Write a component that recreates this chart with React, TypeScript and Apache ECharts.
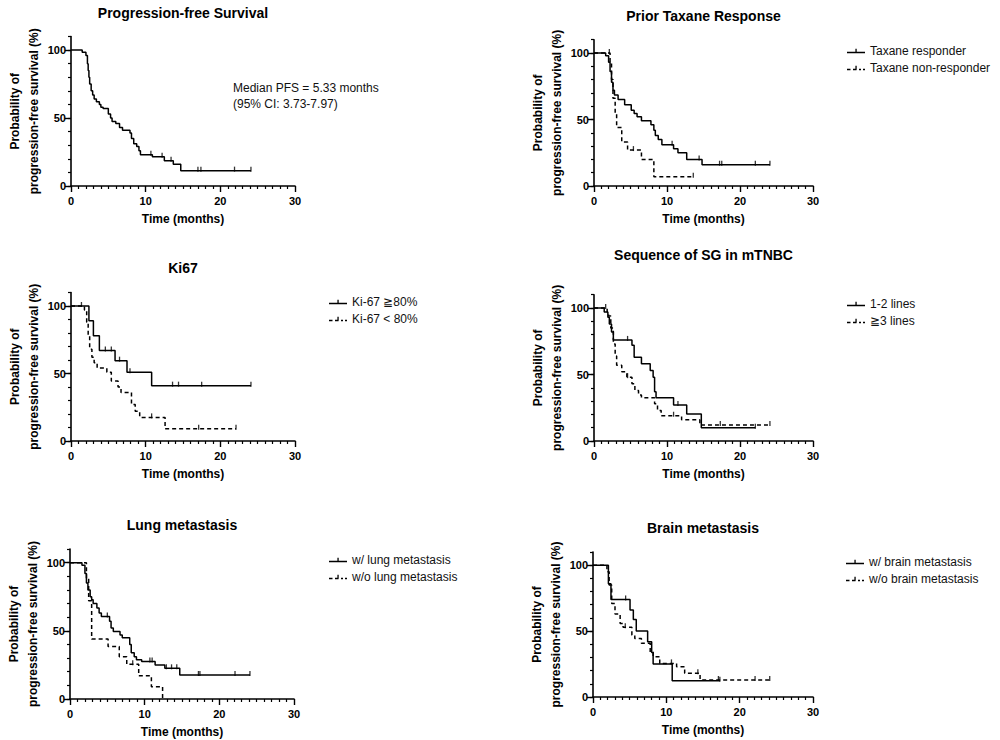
import React, { useEffect, useRef } from "react";
import * as echarts from "echarts";

const FONT = '"Liberation Sans", Arial, Helvetica, sans-serif';

// all patients
const pfsTime = [0, 1.5, 2.0, 2.2, 2.3, 2.4, 2.5, 2.7, 2.9, 3.1, 3.4, 3.8, 4.0, 4.3, 5.0, 5.3, 5.5, 6.0, 6.5, 6.9, 7.9, 8.1, 8.4, 8.8, 9.1, 9.3, 10.9, 12.5, 13.7, 14.7];
const pfsSurv = [100, 98.5, 96, 90, 85, 80, 75, 70, 67, 64, 62, 60, 58, 57, 53, 50, 47.5, 46, 43, 41, 39, 35, 31, 29, 26, 23, 21.5, 18.5, 16, 11.3];
const pfsCensor = [10.7, 12.2, 13.4, 17.0, 17.4, 21.9, 24.1];

// prior taxane response
const taxRespTime = [0, 1.6, 2.0, 2.2, 2.4, 2.6, 2.8, 3.3, 4.2, 5.1, 5.5, 5.9, 6.5, 7.8, 8.2, 8.4, 8.8, 9.3, 10.9, 11.5, 12.7, 14.8];
const taxRespSurv = [100, 98, 93, 86, 78, 72, 68.5, 65, 61, 57, 54.5, 52, 49, 46, 42, 38, 35, 31, 28, 25, 20, 16];
const taxRespCensor = [10.7, 14.4, 17.2, 17.5, 22.1, 24.1];
const taxNonTime = [0, 2.2, 2.4, 2.6, 2.9, 3.1, 3.8, 4.6, 6.5, 8.2];
const taxNonSurv = [100, 93, 80, 66, 55, 44, 33, 27, 20, 7];
const taxNonCensor = [2.1, 5.4, 13.6];

// Ki67
const kiHighTime = [0, 2.4, 3.0, 3.8, 5.9, 7.5, 10.8];
const kiHighSurv = [100, 89, 78, 67, 59.5, 51, 41];
const kiHighCensor = [4.6, 5.4, 6.5, 7.9, 13.6, 14.4, 17.5, 24.1];
const kiLowTime = [0, 1.8, 2.1, 2.3, 2.5, 2.8, 3.1, 3.5, 4.8, 5.4, 6.3, 6.7, 8.1, 8.6, 9.2, 12.6];
const kiLowSurv = [100, 97, 88, 78, 68, 62, 58, 54, 51, 44.5, 40, 36, 27, 22, 17.5, 9];
const kiLowCensor = [1.4, 10.8, 17.1, 22.1];

// line of therapy
const earlyTime = [0, 1.4, 1.9, 2.1, 2.4, 2.65, 5.2, 5.5, 6.5, 7.7, 8.1, 8.3, 8.5, 10.9, 12.7, 14.7];
const earlySurv = [100, 97, 93, 88, 82, 76, 72, 63, 58, 53, 48, 37, 32.6, 27, 20.3, 10];
const earlyCensor = [4.6, 11.5, 22.1];
const lateTime = [0, 1.8, 2.0, 2.3, 2.65, 2.9, 3.1, 3.8, 4.5, 5.2, 5.6, 6.1, 6.5, 8.3, 8.7, 9.2, 12.0, 14.5];
const lateSurv = [100, 97, 94, 85, 73, 64, 57, 52, 48, 43, 38, 34.6, 32.6, 28, 23, 19, 16, 12];
const lateCensor = [1.6, 4.6, 10.9, 17.3, 24.1];

// lung metastasis
const lungYesTime = [0, 1.6, 2.0, 2.2, 2.4, 2.7, 2.9, 3.1, 3.6, 3.9, 4.2, 5.3, 5.5, 5.8, 6.7, 7.0, 8.0, 8.2, 8.6, 8.9, 9.6, 11.4, 12.7, 14.7];
const lungYesSurv = [100, 98, 92, 85, 80, 75, 72.8, 70, 66.7, 63, 60.5, 57, 52, 49.5, 47, 45, 40, 34, 31, 28.7, 27.5, 25, 22.5, 17.6];
const lungYesCensor = [5.0, 10.7, 11.0, 12.9, 13.6, 14.3, 17.2, 17.4, 22.1, 24.1];
const lungNoTime = [0, 2.2, 2.5, 2.9, 5.1, 6.6, 7.6, 9.2, 10.9, 12.4];
const lungNoSurv = [100, 88, 72, 44, 38.5, 31, 25.5, 17, 9, 0];
const lungNoCensor = [8.4];

// brain metastasis
const brainYesTime = [0, 2.1, 2.45, 5.05, 5.5, 5.9, 7.45, 8.0, 8.2, 10.8];
const brainYesSurv = [100, 86, 74, 66, 58.8, 50, 42, 33.8, 25, 12.4];
const brainYesCensor = [4.45, 17.3];
const brainNoTime = [0, 1.9, 2.2, 2.55, 3.0, 3.7, 4.1, 5.3, 5.7, 6.6, 7.8, 8.2, 9.1, 11.4, 12.5, 14.6];
const brainNoSurv = [100, 95, 85, 71, 63, 55.8, 53, 47, 44.4, 40.7, 34, 30.6, 25.5, 23, 18, 12.9];
const brainNoCensor = [4.4, 10.7, 14.3, 17.1, 22.1, 24.1];

const panelTitles = [
  "Progression-free Survival",
  "Prior Taxane Response",
  "Ki67",
  "Sequence of SG in mTNBC",
  "Lung metastasis",
  "Brain metastasis",
];

const panelCurves = [
  [{ name: "All patients", time: pfsTime, surv: pfsSurv, censor: pfsCensor, end: 24.1, dashed: false }],
  [
    { name: "Taxane responder", time: taxRespTime, surv: taxRespSurv, censor: taxRespCensor, end: 24.1, dashed: false },
    { name: "Taxane non-responder", time: taxNonTime, surv: taxNonSurv, censor: taxNonCensor, end: 13.6, dashed: true },
  ],
  [
    { name: "Ki-67 ≧80%", time: kiHighTime, surv: kiHighSurv, censor: kiHighCensor, end: 24.1, dashed: false },
    { name: "Ki-67 < 80%", time: kiLowTime, surv: kiLowSurv, censor: kiLowCensor, end: 22.1, dashed: true },
  ],
  [
    { name: "1-2 lines", time: earlyTime, surv: earlySurv, censor: earlyCensor, end: 22.1, dashed: false },
    { name: "≧3 lines", time: lateTime, surv: lateSurv, censor: lateCensor, end: 24.1, dashed: true },
  ],
  [
    { name: "w/ lung metastasis", time: lungYesTime, surv: lungYesSurv, censor: lungYesCensor, end: 24.1, dashed: false },
    { name: "w/o lung metastasis", time: lungNoTime, surv: lungNoSurv, censor: lungNoCensor, end: 12.4, dashed: true },
  ],
  [
    { name: "w/ brain metastasis", time: brainYesTime, surv: brainYesSurv, censor: brainYesCensor, end: 17.3, dashed: false },
    { name: "w/o brain metastasis", time: brainNoTime, surv: brainNoSurv, censor: brainNoCensor, end: 24.1, dashed: true },
  ],
];

// pixel layout of each panel
const layouts = [
  { left: 71, top: 36.5, width: 224, height: 149.5, titleY: 13, legend: null },
  { left: 594, top: 39.7, width: 219, height: 146.3, titleY: 16, legend: [847, 45] },
  { left: 71, top: 292.5, width: 224, height: 148.5, titleY: 268, legend: [329, 296] },
  { left: 594, top: 294.7, width: 219, height: 146.3, titleY: 255, legend: [847, 298] },
  { left: 70, top: 549, width: 224, height: 150, titleY: 525, legend: [329, 554] },
  { left: 593, top: 552, width: 220, height: 145, titleY: 528, legend: [846, 556] },
];

const SOLID_ICON = "path://M0,5h18v1.5h-18z M8.4,2h1.3v4h-1.3z";
const DASH_ICON = "path://M0,5h3.5v1.5h-3.5z M6,5h3.5v1.5h-3.5z M12,5h2v1.5h-2z M16,5h2v1.5h-2z M8.4,2h1.3v4h-1.3z";

function survAt(time, surv, t) {
  let v = surv[0];
  for (let i = 0; i < time.length; i++) {
    if (time[i] <= t) v = surv[i];
  }
  return v;
}

function buildOption() {
  const grid = layouts.map((l) => ({ left: l.left, top: l.top, width: l.width, height: l.height }));

  const xAxis = layouts.map((l, i) => ({
    gridIndex: i,
    type: "value",
    min: 0,
    max: 30,
    interval: 10,
    name: "Time (months)",
    nameLocation: "middle",
    nameGap: 27,
    nameTextStyle: { fontFamily: FONT, fontWeight: "bold", fontSize: 12, color: "#000" },
    axisLine: { lineStyle: { color: "#000", width: 1.6 } },
    axisTick: { length: 6, lineStyle: { color: "#000", width: 1.4 } },
    minorTick: { show: true, splitNumber: 10, length: 3, lineStyle: { color: "#000", width: 1.2 } },
    axisLabel: { margin: 9, fontFamily: FONT, fontWeight: "bold", fontSize: 11, color: "#000" },
    splitLine: { show: false },
  }));

  const yAxis = [];
  layouts.forEach((l, i) => {
    yAxis.push({
      gridIndex: i,
      type: "value",
      position: "left",
      min: 0,
      max: 110,
      interval: 10,
      name: "Probability of\nprogression-free survival (%)",
      nameLocation: "middle",
      nameRotate: 90,
      nameGap: 27,
      nameTextStyle: { fontFamily: FONT, fontWeight: "bold", fontSize: 12, color: "#000", lineHeight: 19 },
      axisLine: { show: true, lineStyle: { color: "#000", width: 1.6 } },
      axisTick: { show: true, length: 3, lineStyle: { color: "#000", width: 1.2 } },
      axisLabel: {
        margin: 5,
        fontFamily: FONT,
        fontWeight: "bold",
        fontSize: 11,
        color: "#000",
        formatter: (v) => (v === 0 || v === 50 || v === 100 ? String(v) : ""),
      },
      splitLine: { show: false },
    });
    yAxis.push({
      gridIndex: i,
      type: "value",
      position: "left",
      offset: 0,
      min: 0,
      max: 110,
      axisLine: { show: false },
      axisTick: { show: true, length: 6, customValues: [0, 50, 100], lineStyle: { color: "#000", width: 1.4 } },
      axisLabel: { show: false },
      splitLine: { show: false },
    });
  });

  const series = [];
  panelCurves.forEach((curves, i) => {
    curves.forEach((c) => {
      const pts = c.time.map((t, k) => [t, c.surv[k]]);
      pts.push([c.end, c.surv[c.surv.length - 1]]);
      series.push({
        name: c.name,
        type: "line",
        xAxisIndex: i,
        yAxisIndex: i * 2,
        step: "end",
        symbol: "none",
        color: "#000",
        lineStyle: { color: "#000", width: 1.5, type: c.dashed ? [4, 3] : "solid" },
        data: pts,
      });
      series.push({
        name: c.name + " censored",
        type: "scatter",
        xAxisIndex: i,
        yAxisIndex: i * 2,
        symbol: "rect",
        symbolSize: [1.3, 5],
        symbolOffset: [0, -1.5],
        itemStyle: { color: "#000" },
        data: c.censor.map((t) => [t, survAt(c.time, c.surv, t)]),
      });
    });
  });

  const legend = [];
  layouts.forEach((l, i) => {
    if (!l.legend) return;
    legend.push({
      left: l.legend[0],
      top: l.legend[1],
      padding: 0,
      orient: "vertical",
      itemWidth: 18,
      itemHeight: 8,
      itemGap: 5,
      selectedMode: false,
      textStyle: { fontFamily: FONT, fontSize: 12, color: "#111" },
      data: panelCurves[i].map((c) => ({ name: c.name, icon: c.dashed ? DASH_ICON : SOLID_ICON })),
    });
  });

  const graphic = layouts.map((l, i) => ({
    type: "text",
    x: l.left + l.width / 2,
    y: l.titleY,
    style: {
      text: panelTitles[i],
      fontFamily: FONT,
      fontWeight: "bold",
      fontSize: 14,
      fill: "#000",
      textAlign: "center",
      textVerticalAlign: "middle",
    },
  }));
  graphic.push({
    type: "text",
    x: 233,
    y: 80,
    style: {
      text: "Median PFS = 5.33 months\n(95% CI: 3.73-7.97)",
      fontFamily: FONT,
      fontSize: 12,
      lineHeight: 16,
      fill: "#111",
    },
  });

  return { animation: false, backgroundColor: "#fff", grid, xAxis, yAxis, series, legend, graphic };
}

export default function App() {
  const el = useRef(null);

  useEffect(() => {
    if (!el.current) return;
    const chart = echarts.init(el.current, null, { renderer: "svg" });
    chart.setOption(buildOption());
    return () => chart.dispose();
  }, []);

  return (
    <div style={{ position: "absolute", left: 0, top: 0, width: 1000, height: 740, background: "#fff" }}>
      <div ref={el} style={{ width: 1000, height: 740 }} />
    </div>
  );
}
